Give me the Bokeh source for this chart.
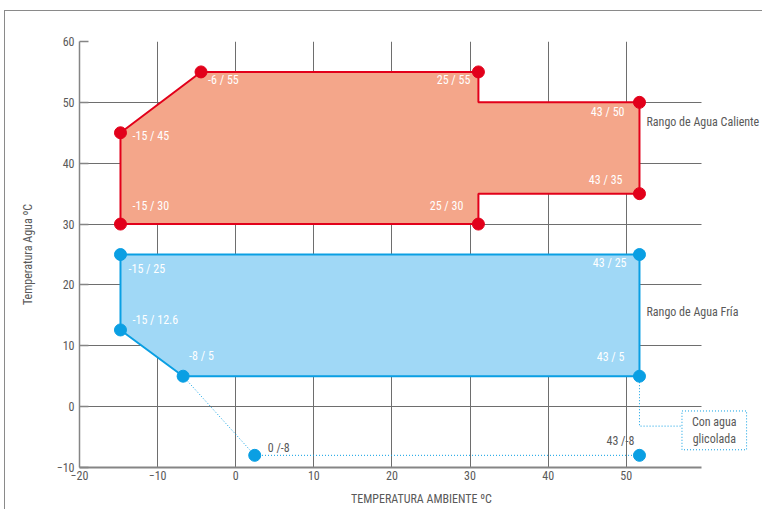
from bokeh.plotting import figure
from bokeh.models import Range1d, FixedTicker, Label, ColumnDataSource
from bokeh.core.properties import value
from bokeh.embed import file_html
from bokeh.resources import INLINE

FONT = "Liberation Sans Narrow, Roboto Condensed, Roboto, sans-serif"

# ---------------- data ----------------
x_ticks = [-20, -10, 0, 10, 20, 30, 40, 50]
y_ticks = [-10, 0, 10, 20, 30, 40, 50, 60]
y_grid = [0, 10, 20, 30, 40, 50]

# hot water range (polygon outline)
hot_x = [-15, -6, 25, 25, 43, 43, 25, 25, -15]
hot_y = [45, 55, 55, 50, 50, 35, 35, 30, 30]
# hot water labelled points
hot_pts_x = [-15, -6, 25, 43, 43, 25, -15]
hot_pts_y = [45, 55, 55, 50, 35, 30, 30]
hot_labels = ["-15 / 45", "-6 / 55", "25 / 55", "43 / 50", "43 / 35", "25 / 30", "-15 / 30"]

# cold water range
cold_x = [-15, 43, 43, -8, -15]
cold_y = [25, 25, 5, 5, 12.6]
cold_labels = ["-15 / 25", "43 / 25", "43 / 5", "-8 / 5", "-15 / 12.6"]

# glycol extension
glycol_x = [-8, 0, 43]
glycol_y = [5, -8, -8]
glycol_pts_x = [0, 43]
glycol_pts_y = [-8, -8]
glycol_labels = ["0 /-8", "43 /-8"]

# ---------------- styles ----------------
RED = "#E2001A"
HOT_FILL = "#F4A68A"
BLUE = "#0A9FE3"
COLD_FILL = "#A0D8F6"
GRID = "#6E6E6E"
AXIS = "#858585"
TEXT = "#595959"

hot_align = ["left", "left", "right", "right", "right", "right", "left"]
hot_xoff = [12, 7, -8, -15, -17, -15, 12]
hot_yoff = [3, 8, 8, 10, -14, -18, -18]
cold_align = ["left", "right", "right", "left", "left"]
cold_xoff = [8, -13, -15, 6, 12]
cold_yoff = [14, 8, -19, -20, -10]
gly_align = ["left", "right"]
gly_xoff = [13, -5]
gly_yoff = [-7, -14]

callout_y = -3.2
box_left_x = 47.7
grid_end = 59.63

p = figure(
    width=758, height=499,
    x_range=Range1d(-20, 67.57),
    y_range=Range1d(-10, 60),
    output_backend="svg", toolbar_location=None,
    min_border_left=74, min_border_right=0, min_border_top=30, min_border_bottom=43,
)
p.extra_x_ranges = {"data": Range1d(-19.58, 56.86)}
p.outline_line_color = None
p.background_fill_color = "white"
p.border_fill_color = "white"
p.styles = {"border-top": "1px solid #8a8a8a", "border-left": "1px solid #8a8a8a",
            "margin-left": "4px", "margin-top": "10px"}

# axes
p.xaxis.ticker = FixedTicker(ticks=x_ticks)
p.yaxis.ticker = FixedTicker(ticks=y_ticks)
p.xgrid.ticker = FixedTicker(ticks=x_ticks)
p.ygrid.ticker = FixedTicker(ticks=y_grid)
for g in (p.xgrid, p.ygrid):
    g.grid_line_color = GRID
    g.grid_line_width = 1
try:
    p.ygrid.cross_bounds = (-20, grid_end)
except Exception:
    pass
p.xaxis.bounds = (-20, grid_end)

p.xaxis.axis_label = "TEMPERATURA AMBIENTE ºC"
p.yaxis.axis_label = "Temperatura Agua ºC"
for ax in (p.xaxis, p.yaxis):
    ax.axis_line_color = AXIS
    ax.major_tick_out = 0
    ax.minor_tick_out = 0
    ax.minor_tick_in = 0
    ax.major_label_text_font = FONT
    ax.major_label_text_font_size = "12px"
    ax.major_label_text_color = TEXT
    ax.axis_label_text_font = FONT
    ax.axis_label_text_font_size = "12px"
    ax.axis_label_text_font_style = "normal"
    ax.axis_label_text_color = TEXT
p.xaxis.axis_line_width = 2
p.yaxis.axis_line_width = 1.5
p.xaxis.major_tick_in = 0
p.xaxis.major_label_standoff = 3
p.xaxis.axis_label_standoff = 9
p.yaxis.major_tick_in = 9
p.yaxis.major_tick_line_color = AXIS
p.yaxis.major_tick_line_width = 1.5
p.yaxis.major_label_standoff = 5
p.yaxis.axis_label_standoff = 19
p.yaxis.major_label_text_baseline = "bottom"

# hot polygon
p.patch(hot_x, hot_y, x_range_name="data", fill_color=HOT_FILL, line_color=RED, line_width=2)
# cold polygon
p.patch(cold_x, cold_y, x_range_name="data", fill_color=COLD_FILL, line_color=BLUE, line_width=2)
# glycol dotted path
p.line(glycol_x, glycol_y, x_range_name="data", line_color=BLUE, line_width=1, line_dash="1 2")
# callout connector to box
p.line([glycol_x[-1], glycol_x[-1], box_left_x], [cold_y[2], callout_y, callout_y],
       x_range_name="data", line_color=BLUE, line_width=1, line_dash="1 2")

# markers
p.scatter(hot_pts_x, hot_pts_y, x_range_name="data", size=12, fill_color=RED, line_color=RED)
p.scatter(cold_x, cold_y, x_range_name="data", size=12, fill_color=BLUE, line_color=BLUE)
p.scatter(glycol_pts_x, glycol_pts_y, x_range_name="data", size=12, fill_color=BLUE, line_color=BLUE)

# point labels
def add_labels(xs, ys, texts, aligns, xo, yo, color):
    src = ColumnDataSource(dict(x=xs, y=ys, t=texts, a=aligns, xo=xo, yo=yo))
    p.text("x", "y", text="t", source=src, x_range_name="data",
           text_align="a", x_offset="xo", y_offset="yo",
           text_baseline="middle", text_font=value(FONT),
           text_font_size="12px", text_color=color)

add_labels(hot_pts_x, hot_pts_y, hot_labels, hot_align, hot_xoff, hot_yoff, "white")
add_labels(cold_x, cold_y, cold_labels, cold_align, cold_xoff, cold_yoff, "white")
add_labels(glycol_pts_x, glycol_pts_y, glycol_labels, gly_align, gly_xoff, gly_yoff, TEXT)

# range names
for txt, yy in (("Rango de Agua Caliente", 46.7), ("Rango de Agua Fría", 15.5)):
    p.add_layout(Label(x=43, y=yy, x_range_name="data", x_offset=7, text=txt,
                       text_font=FONT, text_font_size="12px", text_color=TEXT,
                       text_baseline="middle", text_align="left"))

# glycol box
p.add_layout(Label(x=51.36, y=-3.9, x_range_name="data", text="Con agua\nglicolada",
                   text_font=FONT, text_font_size="12px", text_color=TEXT,
                   text_align="center", text_baseline="middle",
                   border_line_color=BLUE, border_line_dash="1 2", border_line_width=1,
                   background_fill_color="white",
                   padding=dict(left=10, right=10, top=4, bottom=4)))

open("out.html", "w").write(file_html(p, INLINE))
